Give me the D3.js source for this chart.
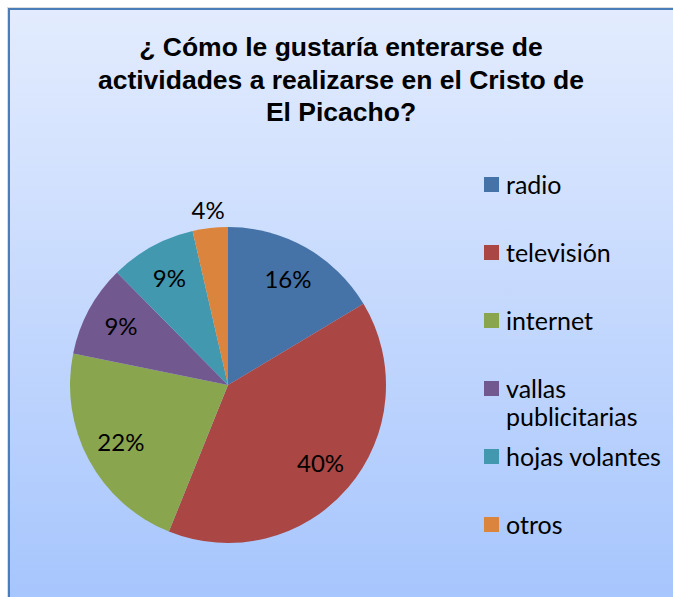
<!DOCTYPE html>
<html>
<head>
<meta charset="utf-8">
<script src="https://cdn.jsdelivr.net/npm/d3@7"></script>
<style>
  body{margin:0;background:#fff;}
  svg{display:block;}
</style>
</head>
<body>
<div id="container"></div>
<script>
const categories=['radio','televisión','internet','vallas publicitarias','hojas volantes','otros'];
const values=[16.4,39.7,22.1,9.4,8.8,3.6];
const colors=['#4572A7','#AA4643','#89A54E','#71588F','#4198AF','#DB843D'];
const titleLines=['¿ Cómo le gustaría enterarse de','actividades a realizarse en el Cristo de','El Picacho?'];

const width=673, height=597;
const cx=228, cy=385, radius=158;

const svg=d3.select('#container').append('svg')
   .attr('width',width).attr('height',height);

const defs=svg.append('defs');
const grad=defs.append('linearGradient').attr('id','bg')
   .attr('x1',0).attr('y1',0).attr('x2',0).attr('y2',1);
grad.append('stop').attr('offset','0%').attr('stop-color','#E3ECFE');
grad.append('stop').attr('offset','100%').attr('stop-color','#A6C5FD');

// shadow + frame
svg.append('rect').attr('x',7).attr('y',7).attr('width',width).attr('height',height)
   .attr('fill','#dcdcdc');
svg.append('rect').attr('x',9).attr('y',9).attr('width',width).attr('height',height)
   .attr('fill','url(#bg)').attr('stroke','#4A7EBB').attr('stroke-width',2);

const title=svg.append('text')
   .attr('text-anchor','middle')
   .attr('font-family','Liberation Sans, Arial, sans-serif')
   .attr('font-weight','bold').attr('font-size',26.5).attr('fill','#000');
titleLines.forEach((t,i)=>{
   title.append('tspan').attr('x',341).attr('y',56+i*32.5).text(t);
});

const total=d3.sum(values);
const pie=d3.pie().sort(null).value(d=>d)(values);
const arc=d3.arc().innerRadius(0).outerRadius(radius);
const labelArc=d3.arc().innerRadius(radius*0.77).outerRadius(radius*0.77);
const outerArc=d3.arc().innerRadius(radius+18).outerRadius(radius+18);

const g=svg.append('g').attr('transform',`translate(${cx},${cy})`);
g.selectAll('path').data(pie).enter().append('path')
   .attr('d',arc).attr('fill',(d,i)=>colors[i]);

g.selectAll('text.lbl').data(pie).enter().append('text')
   .attr('class','lbl')
   .attr('transform',d=>{
      const c=(d.data/total<0.05?outerArc:labelArc).centroid(d);
      return `translate(${c[0]},${c[1]})`;
   })
   .attr('text-anchor','middle').attr('dy','0.35em')
   .attr('font-family','Lato, sans-serif').attr('font-size',24).attr('fill','#000')
   .text(d=>d3.format('.0%')(Math.round(d.data)/100));

const legend=svg.append('g').attr('transform','translate(484,0)');
const item=legend.selectAll('g').data(categories).enter().append('g')
   .attr('transform',(d,i)=>`translate(0,${185+i*68})`);
item.append('rect').attr('x',0).attr('y',-8).attr('width',15).attr('height',15)
   .attr('fill',(d,i)=>colors[i]);
item.append('text').attr('x',22)
   .attr('font-family','Lato, sans-serif').attr('font-size',25).attr('fill','#000')
   .each(function(d){
      const words=d==='vallas publicitarias'?['vallas','publicitarias']:[d];
      words.forEach((w,j)=>{
         d3.select(this).append('tspan').attr('x',22).attr('y',j*28).attr('dy','0.35em').text(w);
      });
   });
</script>
</body>
</html>
